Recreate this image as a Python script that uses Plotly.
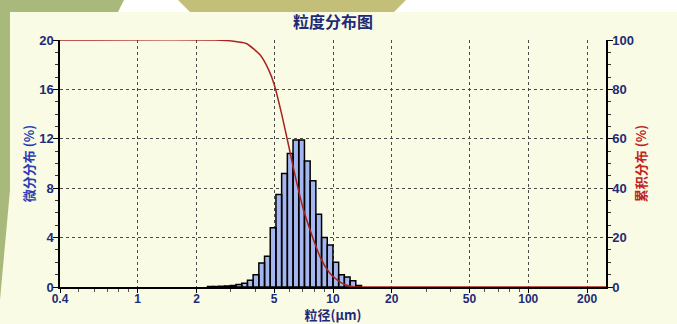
import math
import plotly.graph_objects as go

# ---------------- data ----------------
bin_edges = [2.277, 2.436, 2.605, 2.786, 2.980, 3.187, 3.409, 3.646, 3.899, 4.171,
             4.461, 4.771, 5.103, 5.458, 5.837, 6.243, 6.677, 7.142, 7.638, 8.170,
             8.738, 9.346, 9.995, 10.69, 11.43, 12.23, 13.08, 13.99]
diff_pct = [0.05, 0.05, 0.06, 0.08, 0.12, 0.2, 0.3, 0.55, 1.0, 1.95,
            2.5, 4.8, 7.5, 9.2, 10.8, 11.9, 11.9, 10.2, 8.6, 5.9,
            4.0, 3.4, 2.0, 1.0, 0.8, 0.5, 0.12]

cum_size = [0.4, 2.5, 3.1, 3.62, 4.23, 4.68, 5.0, 5.46, 5.88, 6.36, 7.02,
            7.8, 8.67, 9.55, 10.16, 11.1, 11.9, 12.7, 13.6, 250]
cum_pct = [100, 100, 99.5, 98.5, 94, 88, 82, 70, 58.5, 46, 32,
           21, 11.5, 6, 3.8, 1.6, 0.6, 0.15, 0, 0]

x_ticks = [0.4, 1, 2, 5, 10, 20, 50, 100, 200]
x_tick_labels = ["0.4", "1", "2", "5", "10", "20", "50", "100", "200"]
x_minor = [0.5, 0.6, 0.7, 0.8, 0.9, 3, 4, 6, 7, 8, 9, 30, 40, 60, 70, 80, 90]
y_ticks = [0, 4, 8, 12, 16, 20]
y2_ticks = [0, 20, 40, 60, 80, 100]

title_text = "粒度分布图"
x_title = "粒径(μm)"
y_title = "微分分布 (%)"
y2_title = "累积分布 (%)"

# ---------------- styling ----------------
CREAM = "#fafbe5"
NAVY = "#1d2b78"
BAR_FILL = "#a3b6ef"
CURVE = "#a8231c"
GRID = "#4a4a4a"
GREEN = "#a9b97c"
KHAKI = "#c3bf78"
NUM_FONT = "Liberation Sans Narrow, Liberation Sans, Arial"
CJK_FONT = "Noto Sans CJK SC"

# histogram bars as closed polygons on the log axis
bx, by = [], []
for i, h in enumerate(diff_pct):
    a, b = bin_edges[i], bin_edges[i + 1]
    bx += [a, a, b, b, a, None]
    by += [0, h, h, 0, 0, None]

fig = go.Figure()
fig.add_trace(go.Scatter(
    x=bx, y=by, mode="lines", fill="toself", fillcolor=BAR_FILL,
    line=dict(color="black", width=1.5), hoverinfo="skip", xaxis="x", yaxis="y"))
fig.add_trace(go.Scatter(
    x=cum_size, y=cum_pct, mode="lines",
    line=dict(color=CURVE, width=1.5, shape="spline", smoothing=0.5),
    xaxis="x", yaxis="y2"))

# decorative background (pixel -> paper)
L, R, T, B = 60, 71, 40, 37
W, H = 677, 324
pw, ph = W - L - R, H - T - B


def px(x):
    return (x - L) / pw


def py(y):
    return (H - B - y) / ph


def path(points):
    return "M " + " L ".join(f"{px(x):.4f},{py(y):.4f}" for x, y in points) + " Z"


shapes = [
    dict(type="path", xref="paper", yref="paper", layer="below",
         path=path([(0, 0), (677, 0), (677, 12), (0, 12)]),
         fillcolor="white", line=dict(width=0)),
    dict(type="path", xref="paper", yref="paper", layer="below",
         path=path([(0, 0), (124, 0), (118, 12), (10, 12), (10, 190), (0, 300)]),
         fillcolor=GREEN, line=dict(width=0)),
    dict(type="path", xref="paper", yref="paper", layer="below",
         path=path([(178, 0), (406, 0), (394, 12), (190, 12)]),
         fillcolor=KHAKI, line=dict(width=0)),
]

num_font = dict(family=NUM_FONT, size=13, color=NAVY, weight="bold")
x_num_font = dict(family=NUM_FONT, size=12, color=NAVY, weight="bold")

fig.update_layout(
    width=W, height=H,
    margin=dict(l=L, r=R, t=T, b=B, autoexpand=False),
    paper_bgcolor=CREAM, plot_bgcolor=CREAM,
    showlegend=False,
    shapes=shapes,
    title=dict(text=title_text, x=0.5, xref="paper", xanchor="center",
               y=1 - 22 / H, yref="container", yanchor="middle",
               font=dict(family=CJK_FONT, size=16, color=NAVY, weight="bold")),
    xaxis=dict(
        type="log", range=[math.log10(0.4), math.log10(250)],
        tickmode="array", tickvals=x_ticks, ticktext=x_tick_labels,
        tickfont=x_num_font, ticklabelstandoff=-4,
        ticks="outside", ticklen=4, tickcolor="black", tickwidth=1,
        showline=True, linecolor="black", linewidth=1.5,
        showgrid=True, gridcolor=GRID, gridwidth=1, griddash="3px,3px",
        zeroline=False, automargin=False,
        minor=dict(tickmode="array", tickvals=x_minor, ticks="outside",
                   ticklen=3, tickcolor="#555555", showgrid=False),
        title=dict(text=x_title, standoff=7,
                   font=dict(family=CJK_FONT, size=13, color=NAVY, weight="bold")),
    ),
    yaxis=dict(
        range=[0, 20], tickmode="array", tickvals=y_ticks,
        tickfont=num_font, ticklabelstandoff=-3,
        ticks="outside", ticklen=5, tickcolor="black",
        showline=True, linecolor="black", linewidth=1.5,
        showgrid=True, gridcolor=GRID, gridwidth=1, griddash="3px,3px",
        zeroline=False, automargin=False,
        minor=dict(dtick=1, ticks="outside", ticklen=3, tickcolor="#333333",
                   showgrid=False),
        title=dict(text=y_title, standoff=2,
                   font=dict(family=CJK_FONT, size=13, color="#2a3db5", weight="bold")),
    ),
    yaxis2=dict(
        overlaying="y", side="right",
        range=[0, 100], tickmode="array", tickvals=y2_ticks,
        tickfont=num_font, ticklabelstandoff=-3,
        ticks="outside", ticklen=5, tickcolor="black",
        showline=True, linecolor="black", linewidth=1.5,
        showgrid=False, zeroline=False, automargin=False,
        minor=dict(dtick=5, ticks="outside", ticklen=3, tickcolor="#333333",
                   showgrid=False),
        title=dict(text=y2_title, standoff=4,
                   font=dict(family=CJK_FONT, size=13, color="#c0241c", weight="bold")),
    ),
)

fig.write_html(
    "out.html",
    config={"displayModeBar": False},
    post_script="document.body.style.margin='0';document.body.style.padding='0';"
                "document.body.style.overflow='hidden';",
)
